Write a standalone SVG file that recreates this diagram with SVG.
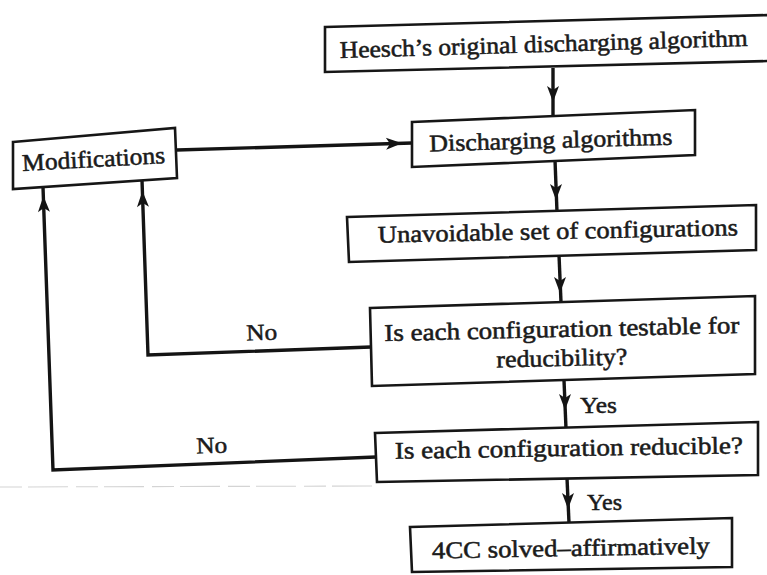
<svg xmlns="http://www.w3.org/2000/svg" xmlns:xlink="http://www.w3.org/1999/xlink" width="767" height="575" viewBox="0 0 767 575">
  <style>
    .box { fill: #ffffff; stroke: #161616; stroke-width: 2.6; stroke-linejoin: miter; }
    .lbl { font-family: "Liberation Serif", "Times New Roman", serif; font-size: 24px; fill: #1b1b1b; stroke: #1b1b1b; stroke-width: 0.55; }
    .side { font-family: "Liberation Serif", "Times New Roman", serif; font-size: 23px; fill: #1b1b1b; stroke: #1b1b1b; stroke-width: 0.5; }
    .wire { fill: none; stroke: #141414; stroke-width: 3.4; stroke-linejoin: miter; stroke-linecap: butt; }
    .head { fill: #141414; }
  </style>
  <defs>
    <!-- arrowhead pointing along +x, tip at the origin -->
    <path id="ah" d="M0,0 L-16,-6 L-12,0 L-16,6 Z"/>
  </defs>

  <rect width="767" height="575" fill="#ffffff"/>

  <!-- faint rule printed through the page -->
  <path d="M0,487 L375,486" stroke="#d4d4d4" stroke-width="1.1" stroke-dasharray="22 6 40 8" fill="none"/>

  <g id="connectors">
    <!-- Heesch's algorithm -> Discharging algorithms -->
    <path class="wire" d="M553,68 L553,117"/>
    <use class="head" xlink:href="#ah" transform="translate(553,102) rotate(90)"/>
    <!-- Discharging algorithms -> Unavoidable set -->
    <path class="wire" d="M555,160 L557,212"/>
    <use class="head" xlink:href="#ah" transform="translate(556,200) rotate(90)"/>
    <!-- Unavoidable set -> testable? -->
    <path class="wire" d="M559,255 L561,302"/>
    <use class="head" xlink:href="#ah" transform="translate(560,293) rotate(90)"/>
    <!-- testable? -> reducible? (Yes) -->
    <path class="wire" d="M564,380 L566,429"/>
    <use class="head" xlink:href="#ah" transform="translate(565,410) rotate(90)"/>
    <!-- reducible? -> 4CC solved (Yes) -->
    <path class="wire" d="M567,478 L569,523"/>
    <use class="head" xlink:href="#ah" transform="translate(568,509) rotate(90)"/>
    <!-- Modifications -> Discharging algorithms -->
    <path class="wire" d="M177,150 L412,143"/>
    <use class="head" xlink:href="#ah" transform="translate(402,143.3) rotate(-1.7)"/>
    <!-- testable? No -> Modifications -->
    <path class="wire" d="M371,347 L148,355 L142,180"/>
    <use class="head" xlink:href="#ah" transform="translate(142.4,191) rotate(-92)"/>
    <!-- reducible? No -> Modifications -->
    <path class="wire" d="M376,457 L53,470 L43,187"/>
    <use class="head" xlink:href="#ah" transform="translate(43.4,196) rotate(-92)"/>
  </g>

  <g id="heesch">
    <polygon class="box" points="325,27 770,15 770,61 325,72"/>
    <text class="lbl" x="544" y="52" text-anchor="middle" textLength="408" lengthAdjust="spacingAndGlyphs" transform="rotate(-1.7 544 52)">Heesch’s original discharging algorithm</text>
  </g>

  <g id="discharging">
    <polygon class="box" points="412,122 695,110 695,155 412,167"/>
    <text class="lbl" x="551" y="148" text-anchor="middle" textLength="243" lengthAdjust="spacingAndGlyphs" transform="rotate(-1.6 551 148)">Discharging algorithms</text>
  </g>

  <g id="modifications">
    <polygon class="box" points="13,142 175,128 177,178 13,189"/>
    <text class="lbl" x="94" y="167" text-anchor="middle" textLength="143" lengthAdjust="spacingAndGlyphs" transform="rotate(-3.2 94 167)">Modifications</text>
  </g>

  <g id="unavoidable">
    <polygon class="box" points="347,217 756,205 756,250 349,262"/>
    <text class="lbl" x="558" y="239" text-anchor="middle" textLength="360" lengthAdjust="spacingAndGlyphs" transform="rotate(-1.2 558 239)">Unavoidable set of configurations</text>
  </g>

  <g id="testable">
    <polygon class="box" points="370,308 755,296 755,374 372,386"/>
    <text class="lbl" x="562" y="337" text-anchor="middle" textLength="355" lengthAdjust="spacingAndGlyphs" transform="rotate(-1.3 562 337)">Is each configuration testable for</text>
    <text class="lbl" x="562" y="366" text-anchor="middle" textLength="131" lengthAdjust="spacingAndGlyphs" transform="rotate(-1.3 562 366)">reducibility?</text>
  </g>

  <g id="reducible">
    <polygon class="box" points="375,433 758,422 758,475 377,482"/>
    <text class="lbl" x="569" y="456" text-anchor="middle" textLength="348" lengthAdjust="spacingAndGlyphs" transform="rotate(-0.9 569 456)">Is each configuration reducible?</text>
  </g>

  <g id="solved">
    <polygon class="box" points="410,527 732,518 732,567 412,572"/>
    <text class="lbl" x="571" y="556" text-anchor="middle" textLength="278" lengthAdjust="spacingAndGlyphs" transform="rotate(-1 571 556)">4CC solved–affirmatively</text>
  </g>

  <g id="edge-labels">
    <text class="side" x="262" y="340" text-anchor="middle" textLength="31" lengthAdjust="spacingAndGlyphs" transform="rotate(-2 262 340)">No</text>
    <text class="side" x="212" y="453" text-anchor="middle" textLength="31" lengthAdjust="spacingAndGlyphs" transform="rotate(-2 212 453)">No</text>
    <text class="side" x="580" y="413" textLength="37" lengthAdjust="spacingAndGlyphs">Yes</text>
    <text class="side" x="587" y="510" textLength="35" lengthAdjust="spacingAndGlyphs">Yes</text>
  </g>
</svg>
